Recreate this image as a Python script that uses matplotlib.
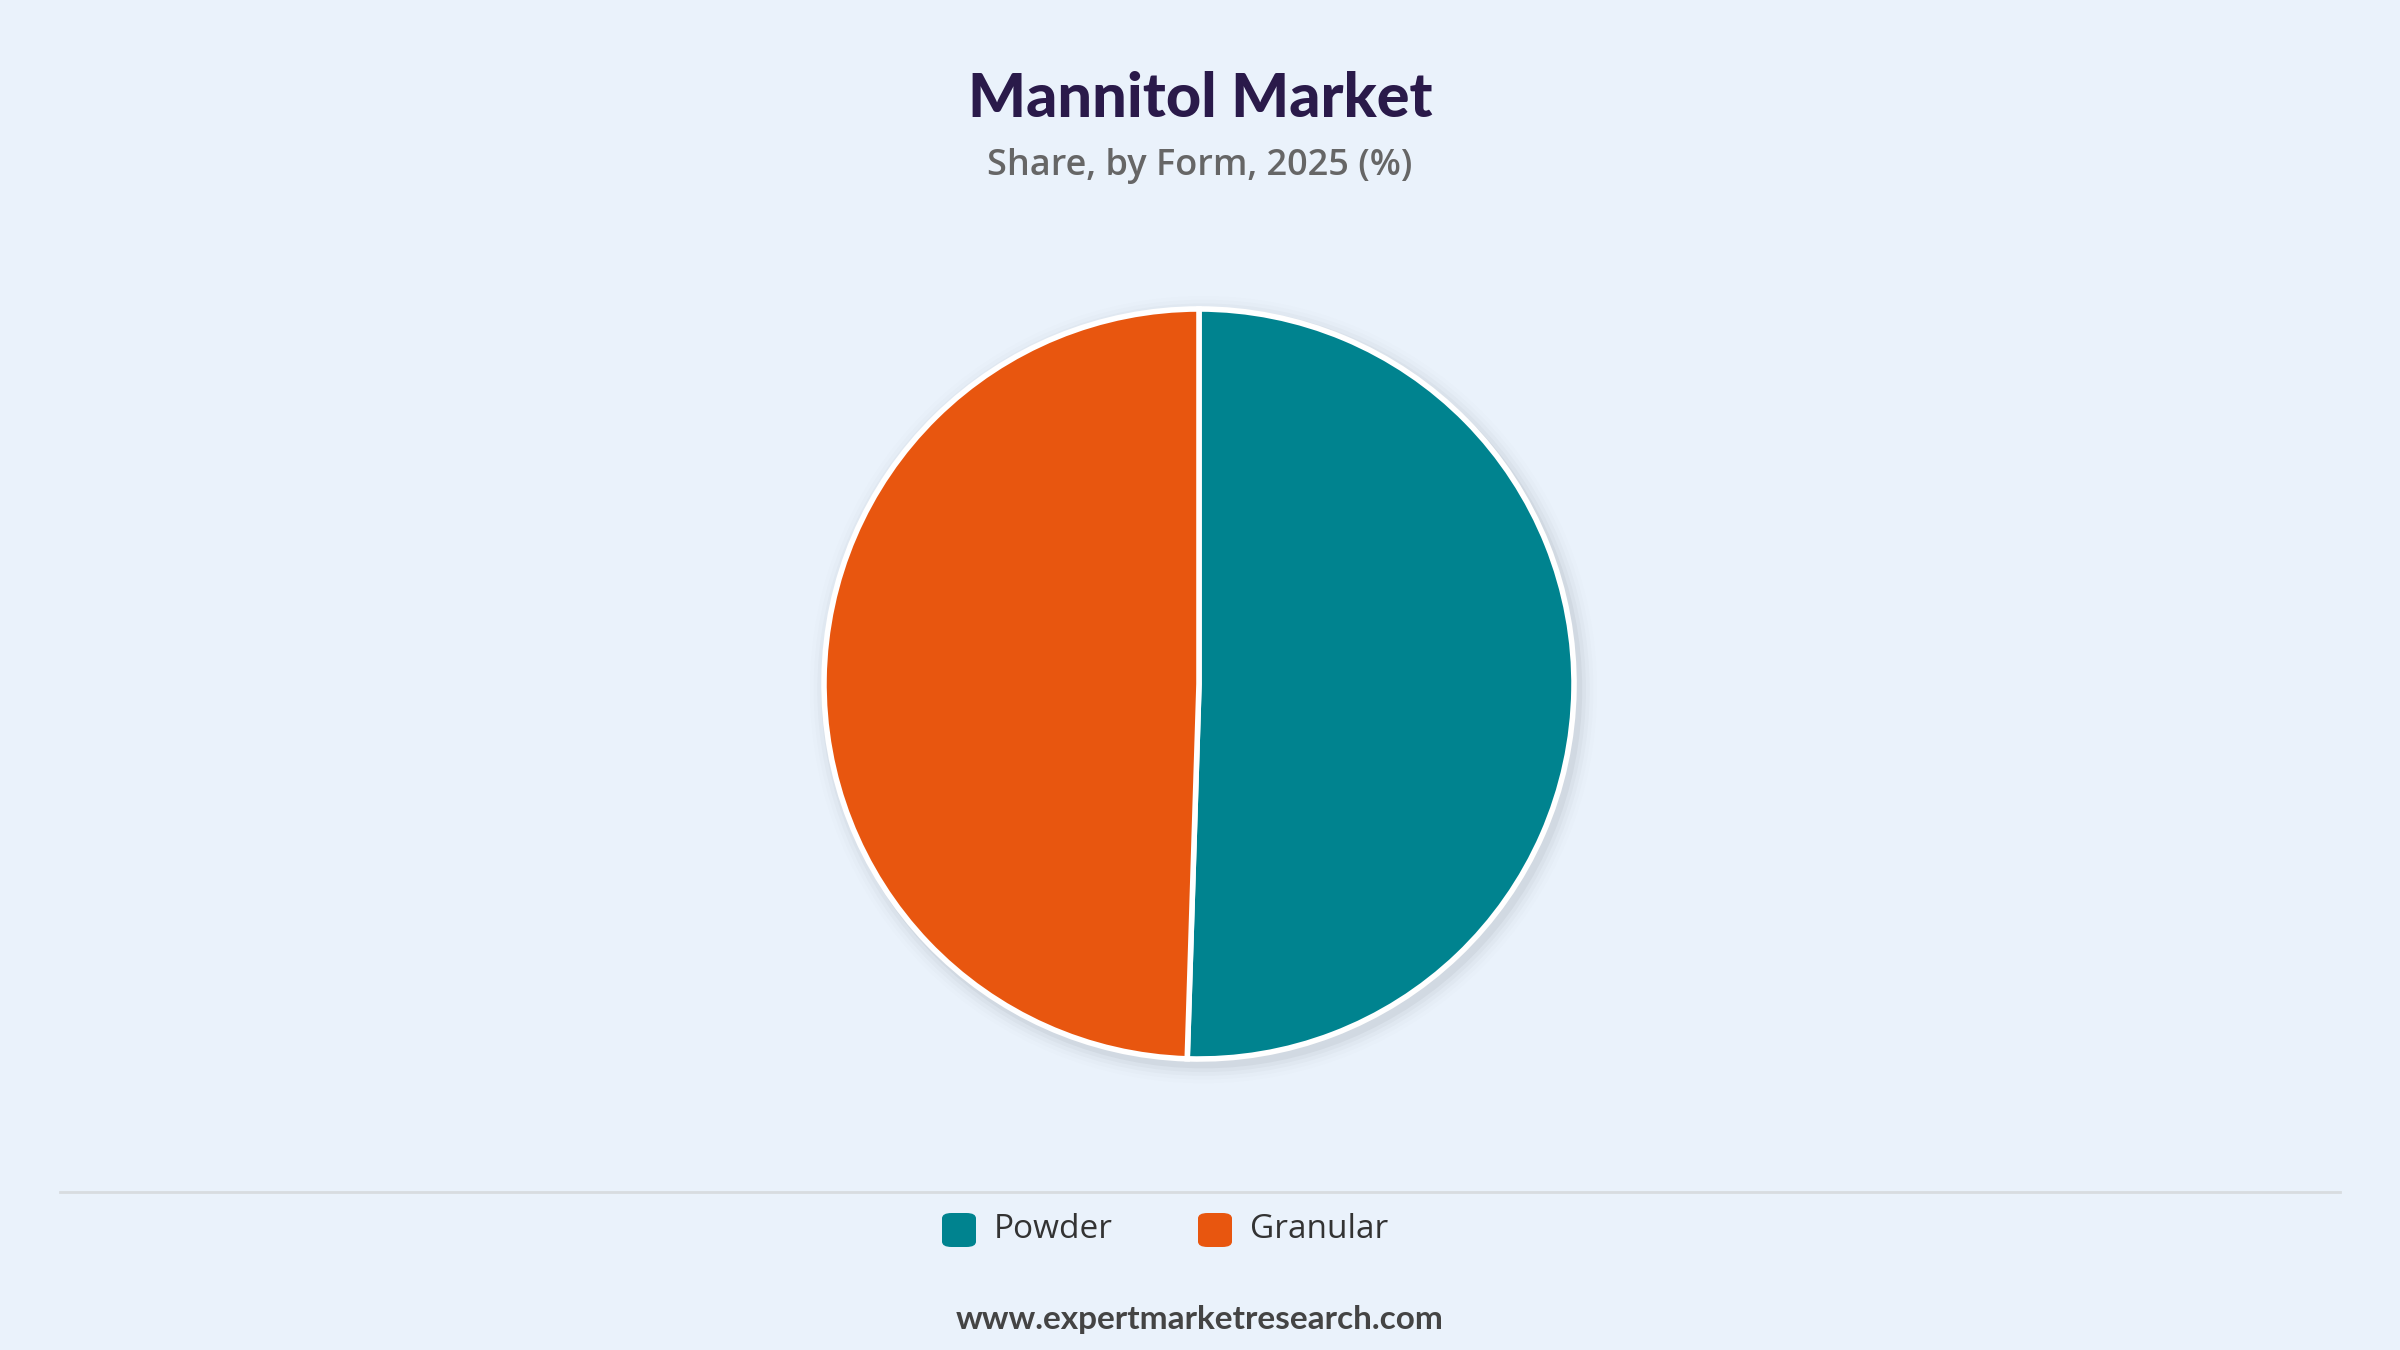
import matplotlib
matplotlib.use("Agg")
import matplotlib.pyplot as plt
from matplotlib.patches import FancyBboxPatch, Circle

categories = ["Powder", "Granular"]
values = [50.5, 49.5]
colors = ["#00838F", "#E8560F"]

W, H = 2400, 1350
fig = plt.figure(figsize=(24, 13.5), dpi=100)
bg = "#EAF2FB"
fig.patch.set_facecolor(bg)

cx, cy, r = 1199, 684, 375
pad = 1.15
R = r * pad
ax = fig.add_axes([(cx - R) / W, (H - cy - R) / H, 2 * R / W, 2 * R / H])
ax.set_facecolor(bg)
ax.patch.set_alpha(0)
for i, a in enumerate([0.035, 0.025, 0.018, 0.012, 0.008]):
    ax.add_patch(Circle((0.012, -0.015), 1.0 + 0.01 * (i + 1), color="#000000", alpha=a, zorder=0, lw=0))
ax.pie(values, colors=colors, startangle=90, counterclock=False, radius=1.0,
       wedgeprops=dict(edgecolor="white", linewidth=4))
ax.set_xlim(-pad, pad)
ax.set_ylim(-pad, pad)
ax.set_aspect("equal")
ax.axis("off")

fig.text(0.5, 1 - 99 / H, "Mannitol Market", ha="center", va="center",
         fontsize=44, fontweight="black", color="#2A1A4A", family="Lato")
fig.text(0.5, 1 - 166 / H, "Share, by Form, 2025 (%)", ha="center", va="center",
         fontsize=26, fontweight="semibold", color="#666666", family="Open Sans")

fig.add_artist(plt.Line2D([60 / W, 2340 / W], [1 - 1192 / H] * 2, color="#D8DCE0", lw=2))

legx = [942, 1198]
for x, lab, c in zip(legx, categories, colors):
    fig.add_artist(FancyBboxPatch((x / W, 1 - 1247 / H), 34 / W, 34 / H,
                                  boxstyle="round,pad=0,rounding_size=0.004",
                                  transform=fig.transFigure, color=c, lw=0))
    fig.text((x + 52) / W, 1 - 1230 / H, lab, ha="left", va="center",
             fontsize=24, color="#333333", family="Open Sans")

fig.text(0.5, 1 - 1320 / H, "www.expertmarketresearch.com", ha="center", va="center",
         fontsize=24, fontweight="bold", color="#444444", family="Lato")

fig.savefig("out.png", dpi=100, facecolor=bg)
